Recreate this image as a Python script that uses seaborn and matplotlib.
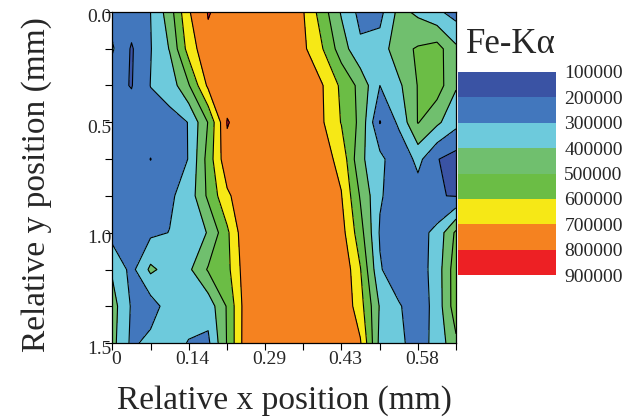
import numpy as np
import matplotlib
matplotlib.use("Agg")
import matplotlib.pyplot as plt
import matplotlib.transforms as mtransforms
import seaborn as sns

# grid node positions (mm)
x_mm = [0.000, 0.036, 0.072, 0.108, 0.144, 0.181, 0.217, 0.253, 0.289, 0.325,
        0.361, 0.397, 0.433, 0.469, 0.506, 0.542, 0.578, 0.614, 0.650]
y_mm = [0.0, 0.167, 0.333, 0.5, 0.667, 0.833, 1.0, 1.167, 1.333, 1.5]

# Fe-Ka counts, thousands (rows = y, cols = x)
fe_ka_k = [
    [260, 250, 300, 450, 690, 805, 770, 760, 760, 760, 705, 550, 390, 270, 270, 430, 380, 320, 260],
    [310, 190, 295, 405, 640, 780, 780, 790, 780, 770, 720, 605, 450, 320, 340, 470, 510, 540, 420],
    [230, 195, 302, 340, 490, 720, 760, 780, 790, 780, 740, 705, 580, 470, 300, 380, 505, 550, 410],
    [240, 250, 260, 270, 302, 505, 805, 760, 780, 780, 760, 710, 595, 475, 195, 320, 505, 420, 330],
    [260, 270, 198, 260, 302, 540, 775, 780, 780, 770, 760, 740, 670, 420, 330, 220, 330, 205, 160],
    [250, 260, 265, 285, 340, 520, 680, 780, 790, 780, 770, 760, 705, 490, 310, 250, 250, 205, 195],
    [260, 270, 280, 302, 350, 405, 580, 785, 790, 790, 780, 770, 740, 540, 290, 250, 260, 330, 520],
    [385, 270, 420, 360, 380, 510, 570, 760, 790, 790, 790, 790, 790, 605, 310, 230, 250, 345, 560],
    [440, 290, 250, 350, 345, 340, 510, 755, 780, 790, 790, 790, 790, 640, 390, 310, 240, 340, 560],
    [430, 280, 330, 340, 295, 280, 508, 758, 780, 790, 790, 790, 790, 710, 370, 320, 260, 330, 480],
]

levels = [100000, 200000, 300000, 400000, 500000, 600000, 700000, 800000, 900000]
level_colors = ["#3a53a4", "#4277bd", "#6dcadc", "#70bf6e",
                "#6bbd45", "#f6e816", "#f58220", "#ed2024"]

xtick_pos = [0, 0.072, 0.144, 0.217, 0.289, 0.361, 0.433, 0.506, 0.578, 0.65]
xtick_labels = ["0", "", "0.14", "", "0.29", "", "0.43", "", "0.58", ""]
ytick_pos = [0, 0.167, 0.333, 0.5, 0.667, 0.833, 1.0, 1.167, 1.333, 1.5]
ytick_labels = ["0.0", "", "", "0.5", "", "", "1.0", "", "", "1.5"]

sns.set_style("ticks")
plt.rcParams["font.family"] = ["Liberation Serif", "DejaVu Serif"]

z = np.array(fe_ka_k) * 1000
palette = sns.color_palette(level_colors)

fig = plt.figure(figsize=(6.41, 4.17), dpi=100)
ax = fig.add_axes([112.5 / 641, 74 / 417, 343.5 / 641, 331 / 417])

cs = ax.contourf(x_mm, y_mm, z, levels=levels, colors=palette)
ax.contour(x_mm, y_mm, z, levels=levels, colors="black", linewidths=0.8)

ax.set_xlim(0, 0.65)
ax.set_ylim(1.5, 0)
ax.set_xticks(xtick_pos)
ax.set_xticklabels(xtick_labels)
ax.set_yticks(ytick_pos)
ax.set_yticklabels(ytick_labels)
ax.tick_params(axis="both", direction="out", length=5, width=0.8,
               labelsize=14, color="black")
ax.tick_params(axis="x", pad=1)
ax.tick_params(axis="y", pad=-4)
for s in ax.spines.values():
    s.set_linewidth(0.9)
    s.set_color("black")

# labels in the original sit a little right / below their ticks
shift_x = mtransforms.ScaledTranslation(4 / 100, 0, fig.dpi_scale_trans)
shift_y = mtransforms.ScaledTranslation(0, -4 / 100, fig.dpi_scale_trans)
for lab in ax.get_xticklabels():
    lab.set_transform(lab.get_transform() + shift_x)
for lab in ax.get_yticklabels():
    lab.set_transform(lab.get_transform() + shift_y)

ax.set_xlabel("Relative x position (mm)", fontsize=24)
ax.set_ylabel("Relative y position (mm)", fontsize=24)
ax.xaxis.set_label_coords(0.5, -0.128)
ax.yaxis.set_label_coords(-0.175, 0.48)

# legend as a colour bar
cax = fig.add_axes([458 / 641, 142 / 417, 98 / 641, 203 / 417])
cb = fig.colorbar(cs, cax=cax, ticks=levels)
cb.outline.set_visible(False)
cax.invert_yaxis()
cax.set_yticklabels([str(v) for v in levels])
cax.tick_params(length=0, labelsize=14, pad=6)
fig.text(466 / 641, 364 / 417, "Fe-K\u03b1", fontsize=25, va="baseline", ha="left")

fig.savefig("out.png", dpi=100)
